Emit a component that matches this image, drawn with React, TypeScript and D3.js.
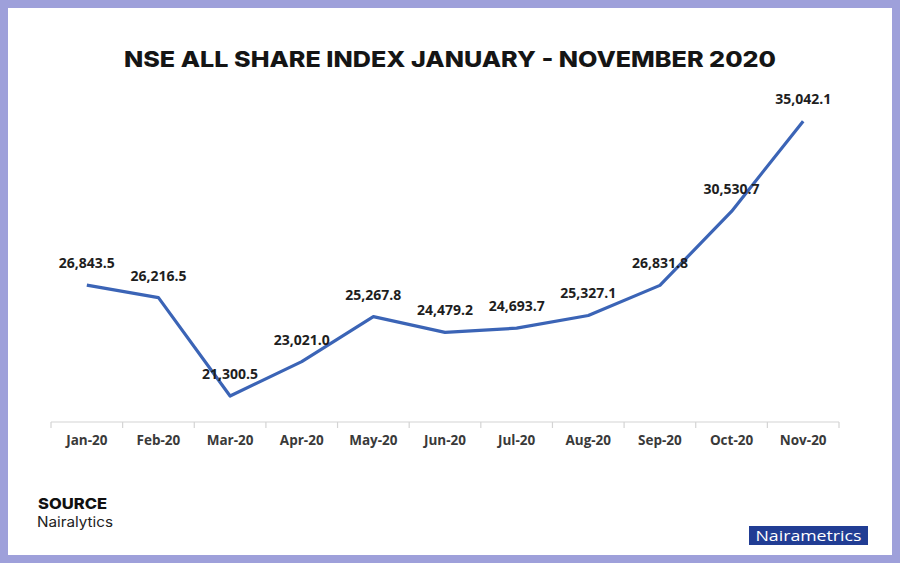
import React from "react";
import * as d3 from "d3";

const months = ["Jan-20", "Feb-20", "Mar-20", "Apr-20", "May-20", "Jun-20", "Jul-20", "Aug-20", "Sep-20", "Oct-20", "Nov-20"];
const indexValues = [26843.5, 26216.5, 21300.5, 23021.0, 25267.8, 24479.2, 24693.7, 25327.1, 26831.8, 30530.7, 35042.1];
const yDomain = [20000, 36000];

const W = 900;
const H = 563;

export default function App() {
  // band scale over the category axis, linear for index values
  const x = d3.scaleBand<string>().domain(months).range([51, 839]);
  const y = d3.scaleLinear().domain(yDomain).range([422, 102]);
  const cx = (m: string) => (x(m) ?? 0) + x.bandwidth() / 2;

  const line = d3
    .line<number>()
    .x((_, i) => cx(months[i]))
    .y((d) => y(d));

  const fmt = d3.format(",.1f");
  const tickXs = [...months.map((m) => x(m) ?? 0), 839];

  return (
    <svg
      width={W}
      height={H}
      viewBox={`0 0 ${W} ${H}`}
      style={{ position: "absolute", left: 0, top: 0, display: "block" }}
    >
      {/* lavender frame */}
      <rect x={0} y={0} width={W} height={H} fill="#9ea0da" />
      <rect x={8} y={8} width={884} height={547} fill="#ffffff" />

      {/* title */}
      <text
        x={450}
        y={67}
        textAnchor="middle"
        fontFamily="Inter, 'Open Sans', sans-serif"
        fontWeight={800}
        fontSize={22}
        fill="#151515"
        textLength={652}
        lengthAdjust="spacingAndGlyphs"
      >
        NSE ALL SHARE INDEX JANUARY - NOVEMBER 2020
      </text>

      {/* x axis */}
      <line x1={51} x2={839} y1={y(yDomain[0])} y2={y(yDomain[0])} stroke="#d4d4d4" strokeWidth={1.2} />
      {tickXs.map((tx, i) => (
        <line key={i} x1={tx} x2={tx} y1={y(yDomain[0])} y2={y(yDomain[0]) + 6} stroke="#d4d4d4" strokeWidth={1.2} />
      ))}
      {months.map((m) => (
        <text
          key={m}
          x={cx(m)}
          y={445}
          textAnchor="middle"
          fontFamily="'Open Sans', sans-serif"
          fontWeight={700}
          fontSize={13.5}
          fill="#3a3a3a"
        >
          {m}
        </text>
      ))}

      {/* series */}
      <path d={line(indexValues) ?? ""} fill="none" stroke="#3b64b6" strokeWidth={3.2} strokeLinejoin="round" />

      {/* data labels */}
      {indexValues.map((v, i) => (
        <text
          key={i}
          x={cx(months[i])}
          y={y(v) - 17}
          textAnchor="middle"
          fontFamily="'Open Sans', sans-serif"
          fontWeight={700}
          fontSize={14}
          fill="#1e1e1e"
        >
          {fmt(v)}
        </text>
      ))}

      {/* source */}
      <text
        x={38}
        y={509}
        fontFamily="Inter, 'Open Sans', sans-serif"
        fontWeight={800}
        fontSize={15}
        fill="#111"
        textLength={69}
        lengthAdjust="spacingAndGlyphs"
      >
        SOURCE
      </text>
      <text
        x={37}
        y={527}
        fontFamily="Inter, 'Open Sans', sans-serif"
        fontWeight={400}
        fontSize={14}
        fill="#222"
        textLength={76}
        lengthAdjust="spacingAndGlyphs"
      >
        Nairalytics
      </text>

      {/* logo */}
      <rect x={749} y={526} width={119} height={19} fill="#213d94" />
      <text
        x={808.5}
        y={540.5}
        textAnchor="middle"
        fontFamily="'Open Sans', sans-serif"
        fontWeight={500}
        fontSize={14}
        fill="#ffffff"
        textLength={106}
        lengthAdjust="spacingAndGlyphs"
      >
        Nairametrics
      </text>
    </svg>
  );
}
